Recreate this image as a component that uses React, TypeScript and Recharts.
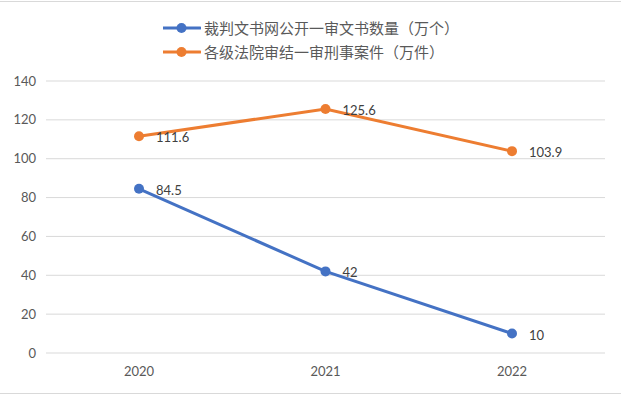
import { CartesianGrid, LabelList, Line, LineChart, XAxis, YAxis } from "recharts";

const years = ["2020", "2021", "2022"];
const docsPublished = [84.5, 42, 10];
const criminalCases = [111.6, 125.6, 103.9];
const yTicks = [0, 20, 40, 60, 80, 100, 120, 140];

const seriesNames = ["裁判文书网公开一审文书数量（万个）", "各级法院审结一审刑事案件（万件）"];
const seriesColors = ["#4472C4", "#ED7D31"];

const data = years.map((year, i) => ({
  year,
  docs: docsPublished[i],
  cases: criminalCases[i],
}));

const numFont = "Lato, 'Liberation Sans', sans-serif";

// data label to the right of each point
const renderLabel = (props: any) => {
  const { x, y, value } = props;
  return (
    <text x={x + 17} y={y + 1} fill="#404040" fontSize={13} fontFamily={numFont} dominantBaseline="central">
      {value}
    </text>
  );
};

const Legend = () => (
  <div style={{ position: "absolute", left: 163, top: 16, fontFamily: "'Noto Sans CJK SC', sans-serif" }}>
    {seriesNames.map((name, i) => (
      <div key={name} style={{ display: "flex", alignItems: "center", height: 24 }}>
        <svg width={38} height={12} style={{ marginRight: 3 }}>
          <line x1={0} y1={6} x2={37} y2={6} stroke={seriesColors[i]} strokeWidth={3} strokeLinecap="round" />
          <circle cx={18.5} cy={6} r={5} fill={seriesColors[i]} />
        </svg>
        <span style={{ fontSize: 15, color: "#595959", lineHeight: "20px" }}>{name}</span>
      </div>
    ))}
  </div>
);

export default function App() {
  return (
    <div style={{ position: "fixed", left: 0, top: 0, width: 621, height: 395, background: "#fff" }}>
      <div style={{ position: "absolute", left: 0, top: 1, width: 621, height: 1, background: "#d9d9d9" }} />
      <div style={{ position: "absolute", left: 0, top: 393, width: 621, height: 1, background: "#d9d9d9" }} />
      <Legend />
      <LineChart width={621} height={395} data={data} margin={{ top: 81, right: 16, bottom: 12, left: 0 }}>
        <CartesianGrid vertical={false} stroke="#d9d9d9" />
        <XAxis
          dataKey="year"
          axisLine={false}
          tickLine={false}
          tickMargin={8}
          height={30}
          padding={{ left: 93, right: 93 }}
          tick={{ fontSize: 13, fill: "#595959", fontFamily: numFont }}
        />
        <YAxis
          domain={[0, 140]}
          ticks={yTicks}
          axisLine={false}
          tickLine={false}
          width={46}
          tickMargin={4}
          tick={{ fontSize: 13, fill: "#595959", fontFamily: numFont }}
        />
        <Line
          dataKey="cases"
          stroke={seriesColors[1]}
          strokeWidth={3}
          dot={{ r: 5, fill: seriesColors[1], stroke: seriesColors[1], strokeWidth: 0 }}
          isAnimationActive={false}
        >
          <LabelList dataKey="cases" content={renderLabel} />
        </Line>
        <Line
          dataKey="docs"
          stroke={seriesColors[0]}
          strokeWidth={3}
          dot={{ r: 5, fill: seriesColors[0], stroke: seriesColors[0], strokeWidth: 0 }}
          isAnimationActive={false}
        >
          <LabelList dataKey="docs" content={renderLabel} />
        </Line>
      </LineChart>
    </div>
  );
}
